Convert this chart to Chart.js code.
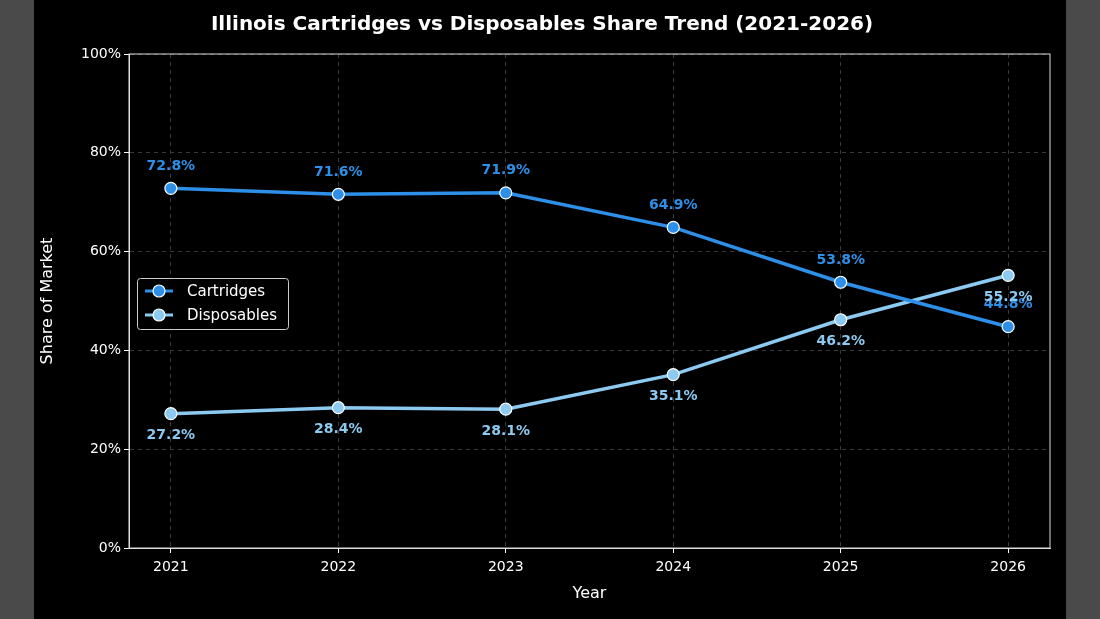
<!DOCTYPE html>
<html><head><meta charset="utf-8">
<script src="https://cdn.jsdelivr.net/npm/chart.js@4/dist/chart.umd.min.js"></script>
<style>
html,body{margin:0;padding:0;background:#4a4a4a;width:1100px;height:619px;overflow:hidden}
#wrap{position:absolute;left:34px;top:0;width:1032px;height:619px;background:#000}
</style></head><body>
<div id="wrap"><canvas id="c" width="1032" height="619"></canvas></div>
<script>
const years=[2021,2022,2023,2024,2025,2026];
const cartridges=[72.8,71.6,71.9,64.9,53.8,44.8];
const disposables=[27.2,28.4,28.1,35.1,46.2,55.2];
const yTicks=[0,20,40,60,80,100];
const C1='#2e8fe8', C2='#8ccaf2';
const F='"DejaVu Sans", sans-serif';

const labelPlugin={id:'lbl',afterDatasetsDraw(ch){
  const ctx=ch.ctx;ctx.save();
  ctx.font='bold 14px '+F;ctx.textAlign='center';ctx.textBaseline='middle';
  ch.data.datasets.forEach((ds,i)=>{
    const meta=ch.getDatasetMeta(i);
    meta.data.forEach((p,j)=>{
      ctx.fillStyle=ds.borderColor;
      const dy=i===0?-22:22;
      ctx.fillText(ds.data[j].y.toFixed(1)+'%',p.x,p.y+dy);
    });
  });
  const a=ch.chartArea;const lx=a.left+8,ly=278,w=151,h=51;
  ctx.fillStyle='#000';ctx.strokeStyle='#cccccc';ctx.lineWidth=1;
  ctx.beginPath();ctx.roundRect(lx+0.5,ly+0.5,w,h,3);ctx.fill();ctx.stroke();
  ch.data.datasets.forEach((ds,i)=>{
    const y=ly+13+i*24;
    ctx.strokeStyle=ds.borderColor;ctx.lineWidth=3;
    ctx.beginPath();ctx.moveTo(lx+8,y);ctx.lineTo(lx+36,y);ctx.stroke();
    ctx.fillStyle=ds.borderColor;ctx.strokeStyle='#fff';ctx.lineWidth=1.2;
    ctx.beginPath();ctx.arc(lx+22,y,6,0,Math.PI*2);ctx.fill();ctx.stroke();
    ctx.fillStyle='#fff';ctx.font='15px '+F;ctx.textAlign='left';
    ctx.fillText(ds.label,lx+50,y+1);
  });
  ctx.restore();
}};

new Chart(document.getElementById('c'),{
  type:'line',
  data:{datasets:[
    {label:'Cartridges',data:years.map((y,i)=>({x:y,y:cartridges[i]})),borderColor:C1,backgroundColor:C1,pointBorderColor:'#fff'},
    {label:'Disposables',data:years.map((y,i)=>({x:y,y:disposables[i]})),borderColor:C2,backgroundColor:C2,pointBorderColor:'#fff'}
  ]},
  options:{
    responsive:false,animation:false,
    layout:{padding:{left:0,right:16,top:0,bottom:12}},
    elements:{line:{borderWidth:3.5,tension:0},point:{radius:6,borderWidth:1.2}},
    plugins:{legend:{display:false},tooltip:{enabled:false},
      title:{display:true,text:'Illinois Cartridges vs Disposables Share Trend (2021-2026)',color:'#fff',
        font:{family:F,size:20,weight:'bold'},padding:{top:13,bottom:17}}},
    scales:{
      x:{type:'linear',min:2020.75,max:2026.25,
        afterBuildTicks(s){s.ticks=years.map(v=>({value:v}));},
        ticks:{color:'#fff',font:{family:F,size:14},callback:v=>String(v),padding:6},
        grid:{color:'#3a3a3a',tickColor:'#fff',tickLength:5,drawTicks:true},
        border:{color:'#ddd',width:1,dash:[4,4]},
        title:{display:true,text:'Year',color:'#fff',font:{family:F,size:16},padding:{top:2}}},
      y:{min:0,max:100,
        afterBuildTicks(s){s.ticks=yTicks.map(v=>({value:v}));},
        afterFit(s){s.width=95;},
        ticks:{color:'#fff',font:{family:F,size:14},callback:v=>v+'%'},
        grid:{color:'#3a3a3a',tickColor:'#fff',tickLength:5},
        border:{color:'#ddd',width:1,dash:[4,4]},
        title:{display:true,text:'Share of Market',color:'#fff',font:{family:F,size:16}}}
    }
  },
  plugins:[labelPlugin,{id:'frame',afterDraw(ch){const a=ch.chartArea,c=ch.ctx;c.save();c.strokeStyle='#ddd';c.lineWidth=1;c.strokeRect(a.left,a.top,a.right-a.left,a.bottom-a.top);c.restore();}}]
});
</script></body></html>
